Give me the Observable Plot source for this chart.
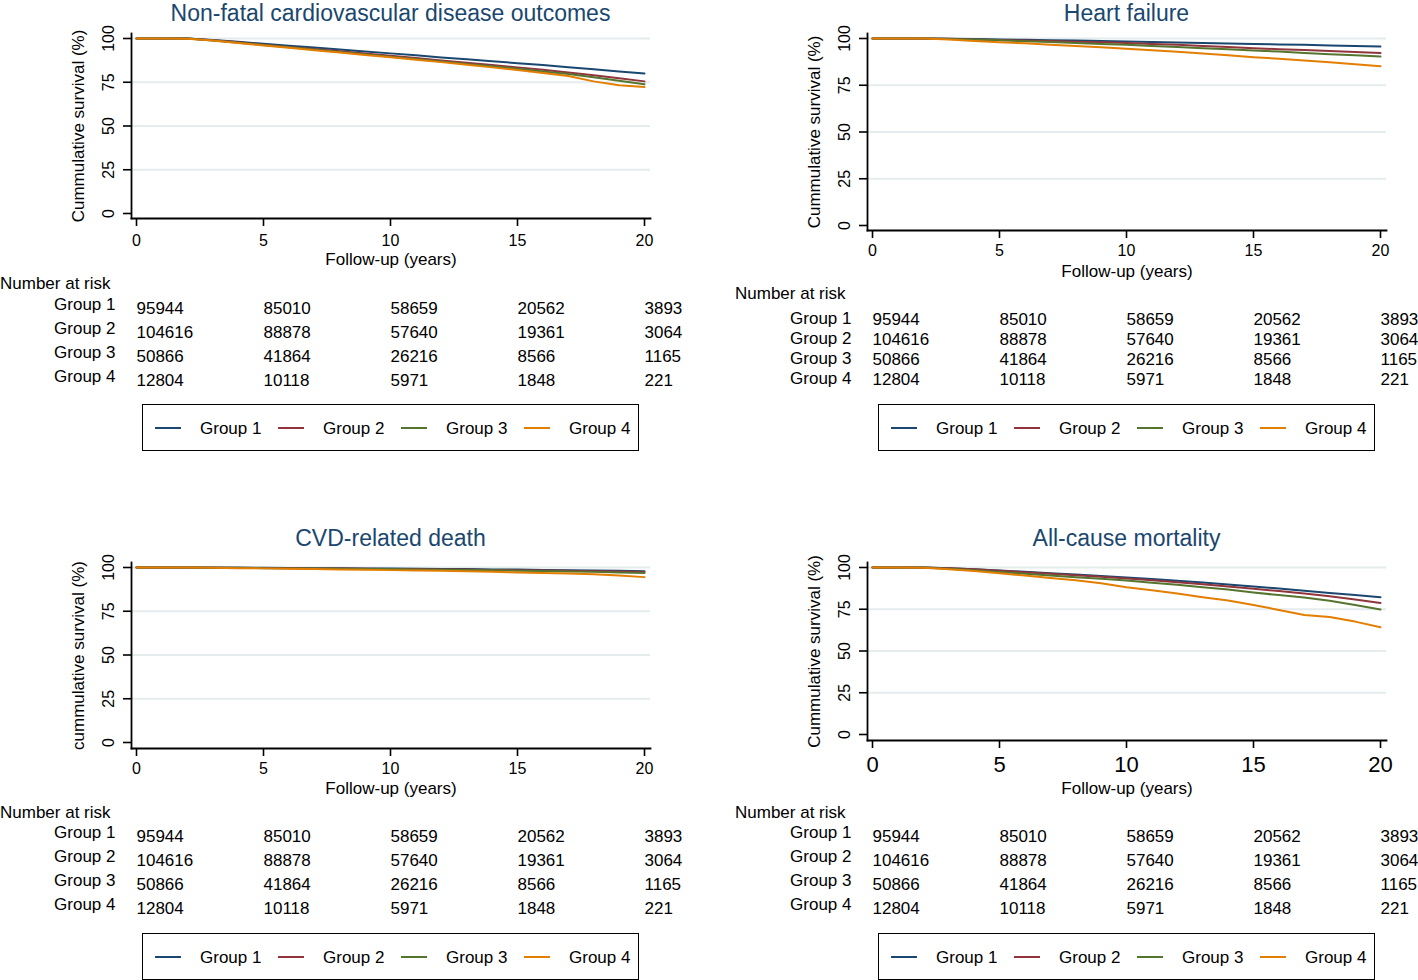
<!DOCTYPE html>
<html>
<head>
<meta charset="utf-8">
<script src="https://cdn.jsdelivr.net/npm/d3@7"></script>
<script src="https://cdn.jsdelivr.net/npm/@observablehq/plot@0.6"></script>
<style>
  body { margin: 0; background: #fff; }
  #root { position: relative; width: 1418px; height: 980px; overflow: hidden; background: #fff;
          font-family: "Liberation Sans", Arial, sans-serif; color: #000; }
  .abs { position: absolute; }
  .title { font-size: 23px; line-height: 26px; color: #1a476f; text-align: center; white-space: nowrap; }
  .txt17 { font-size: 17px; line-height: 17px; white-space: nowrap; }
  .legend { border: 1.6px solid #000; box-sizing: border-box; background: #fff; }
  svg { overflow: visible; }
</style>
</head>
<body>
<div id="root"></div>
<script>
// ---------------- DATA ----------------
const groups = ["Group 1", "Group 2", "Group 3", "Group 4"];
const groupColors = ["#1a476f", "#90353b", "#55752f", "#e37e00"];
const years = [0, 1, 2, 3, 4, 5, 6, 7, 8, 9, 10, 11, 12, 13, 14, 15, 16, 17, 18, 19, 20];
const xTicks = [0, 5, 10, 15, 20];
const yTicks = [0, 25, 50, 75, 100];
const yGrid = [25, 50, 75, 100];

// Cumulative survival (%) read at each follow-up year, per group
const survNonFatal = [
  [100, 100, 100, 99.2, 98.1, 97.0, 95.9, 94.8, 93.7, 92.6, 91.5, 90.4, 89.2, 88.1, 87.0, 85.9, 84.8, 83.6, 82.4, 81.2, 80.0],
  [100, 100, 100, 99.0, 97.8, 96.5, 95.2, 94.0, 92.7, 91.4, 90.1, 88.8, 87.5, 86.2, 84.8, 83.5, 82.1, 80.6, 79.0, 77.3, 75.5],
  [100, 100, 100, 98.9, 97.6, 96.3, 95.0, 93.7, 92.3, 91.0, 89.6, 88.3, 86.9, 85.5, 84.1, 82.7, 81.2, 79.7, 77.8, 75.8, 73.8],
  [100, 100, 99.9, 98.8, 97.4, 96.0, 94.7, 93.3, 92.0, 90.6, 89.3, 87.9, 86.5, 85.0, 83.5, 82.0, 80.3, 78.6, 75.5, 73.3, 72.3]
];
const survHeartFailure = [
  [100, 100, 100, 99.9, 99.7, 99.5, 99.3, 99.1, 98.9, 98.6, 98.4, 98.1, 97.9, 97.6, 97.3, 97.1, 96.8, 96.6, 96.3, 96.0, 95.7],
  [100, 100, 100, 99.8, 99.5, 99.2, 98.9, 98.6, 98.3, 98.0, 97.6, 97.1, 96.6, 96.0, 95.4, 94.8, 94.3, 93.8, 93.3, 92.8, 92.3],
  [100, 100, 100, 99.7, 99.4, 99.0, 98.5, 98.1, 97.6, 97.1, 96.6, 96.0, 95.4, 94.8, 94.2, 93.6, 93.0, 92.3, 91.6, 91.0, 90.4],
  [100, 100, 100, 99.4, 98.7, 98.0, 97.4, 96.7, 96.0, 95.3, 94.5, 93.7, 92.9, 92.0, 91.0, 90.0, 89.2, 88.3, 87.3, 86.2, 85.2]
];
const survCVDDeath = [
  [100, 100, 100, 100, 99.9, 99.8, 99.7, 99.6, 99.6, 99.5, 99.4, 99.3, 99.2, 99.1, 98.9, 98.8, 98.6, 98.5, 98.3, 98.1, 97.9],
  [100, 100, 100, 99.9, 99.8, 99.7, 99.6, 99.5, 99.4, 99.3, 99.2, 99.1, 98.9, 98.8, 98.6, 98.5, 98.3, 98.1, 97.9, 97.7, 97.4],
  [100, 100, 100, 99.9, 99.8, 99.6, 99.5, 99.4, 99.3, 99.2, 99.1, 98.9, 98.7, 98.6, 98.4, 98.2, 98.0, 97.7, 97.5, 97.2, 96.9],
  [100, 100, 100, 99.8, 99.6, 99.5, 99.3, 99.1, 98.9, 98.7, 98.5, 98.3, 98.1, 97.9, 97.6, 97.2, 96.9, 96.6, 96.2, 95.4, 94.5]
];
const survAllCause = [
  [100, 100, 100, 99.6, 99.0, 98.2, 97.4, 96.6, 95.8, 94.9, 94.0, 93.1, 92.1, 91.0, 89.8, 88.6, 87.4, 86.1, 84.8, 83.5, 82.2],
  [100, 100, 100, 99.5, 98.9, 98.0, 97.2, 96.3, 95.3, 94.4, 93.4, 92.3, 91.1, 89.9, 88.6, 87.3, 85.9, 84.4, 82.8, 80.9, 78.8],
  [100, 100, 100, 99.3, 98.4, 97.3, 96.3, 95.2, 94.2, 93.2, 92.2, 90.9, 89.6, 88.2, 86.8, 85.0, 83.5, 82.0, 80.1, 77.6, 74.8],
  [100, 100, 99.8, 99.0, 97.9, 96.6, 95.2, 93.7, 92.3, 90.6, 88.2, 86.4, 84.4, 82.2, 80.2, 77.5, 74.6, 71.5, 70.4, 67.6, 64.2]
];

// Number at risk
const riskTimes = [0, 5, 10, 15, 20];
const riskGroup1 = [95944, 85010, 58659, 20562, 3893];
const riskGroup2 = [104616, 88878, 57640, 19361, 3064];
const riskGroup3 = [50866, 41864, 26216, 8566, 1165];
const riskGroup4 = [12804, 10118, 5971, 1848, 221];
const riskAll = [riskGroup1, riskGroup2, riskGroup3, riskGroup4];

const titles = ["Non-fatal cardiovascular disease outcomes", "Heart failure", "CVD-related death", "All-cause mortality"];
const yLabels = ["Cummulative survival (%)", "Cummulative survival (%)", "cummulative survival (%)", "Cummulative survival (%)"];
const xLabel = "Follow-up (years)";
const riskHeader = "Number at risk";

// ---------------- LAYOUT ----------------
const FONT = '"Liberation Sans", Arial, sans-serif';
const GRID = "#e4ecee";
const root = document.getElementById("root");

const panels = [
  { surv: survNonFatal, title: titles[0], yLabel: yLabels[0],
    left: 0, top: 0, width: 700, height: 275, mt: 33, mb: 57, ml: 131, mr: 50, iT: 5, iB: 5,
    xFont: 16, xPad: 8, xTitleDy: 41, titleTop: 0,
    riskTop: 290, riskH: 100, riskMt: 17.5, riskMb: 10.5, labDy: -4, narTop: 274.5,
    legTop: 404 },
  { surv: survHeartFailure, title: titles[1], yLabel: yLabels[1],
    left: 700, top: 0, width: 718, height: 285, mt: 33, mb: 55, ml: 167, mr: 32, iT: 5, iB: 5,
    xFont: 16, xPad: 6, xTitleDy: 41.5, titleTop: 0,
    riskTop: 300, riskH: 90, riskMt: 18.5, riskMb: 10, labDy: -1, narTop: 284.5,
    legTop: 404 },
  { surv: survCVDDeath, title: titles[2], yLabel: yLabels[2],
    left: 0, top: 520, width: 700, height: 280, mt: 42, mb: 52, ml: 131, mr: 50, iT: 5, iB: 6,
    xFont: 16, xPad: 6, xTitleDy: 40, titleTop: 525,
    riskTop: 818, riskH: 100, riskMt: 17.5, riskMb: 10.5, labDy: -4, narTop: 803.5,
    legTop: 933 },
  { surv: survAllCause, title: titles[3], yLabel: yLabels[3],
    left: 700, top: 520, width: 718, height: 280, mt: 42, mb: 60, ml: 167, mr: 32, iT: 5, iB: 6,
    xFont: 22, xPad: 8, xTitleDy: 48, titleTop: 525,
    riskTop: 818, riskH: 100, riskMt: 17.5, riskMb: 10.5, labDy: -4, narTop: 803.5,
    legTop: 933 }
];

function place(el, left, top) {
  el.style.position = "absolute";
  el.style.left = left + "px";
  el.style.top = top + "px";
  root.appendChild(el);
  return el;
}

function div(cls, text) {
  const d = document.createElement("div");
  d.className = cls;
  if (text != null) d.textContent = text;
  return d;
}

for (const p of panels) {
  const rows = [];
  p.surv.forEach((s, gi) => years.forEach((t, i) => rows.push({ group: groups[gi], t, s: s[i] })));

  const xScale = { domain: [0, 20], insetLeft: 5, insetRight: 6 };

  const chart = Plot.plot({
    width: p.width, height: p.height,
    marginTop: p.mt, marginBottom: p.mb, marginLeft: p.ml, marginRight: p.mr,
    style: { fontFamily: FONT, fontSize: "16px", color: "#000", background: "transparent", overflow: "visible" },
    x: xScale,
    y: { domain: [0, 100], insetTop: p.iT, insetBottom: p.iB },
    color: { domain: groups, range: groupColors },
    marks: [
      Plot.gridY(yGrid, { stroke: GRID, strokeOpacity: 1, strokeWidth: 2.2 }),
      Plot.line(rows, { x: "t", y: "s", z: "group", stroke: "group", strokeWidth: 2 }),
      Plot.frame({ anchor: "left", stroke: "#000", strokeWidth: 1.8 }),
      Plot.frame({ anchor: "bottom", stroke: "#000", strokeWidth: 1.8 }),
      Plot.axisX(xTicks, { tickSize: 8, tickPadding: p.xPad, fontSize: p.xFont, strokeWidth: 1.6, label: null, tickFormat: d => String(d) }),
      Plot.axisY(yTicks, { tickSize: 8, tickPadding: 10, tickRotate: -90, textAnchor: "middle", lineAnchor: "bottom", fontSize: 16, strokeWidth: 1.6, label: null, tickFormat: d => String(d) }),
      Plot.text([xLabel], { text: d => d, frameAnchor: "bottom", dy: p.xTitleDy, lineAnchor: "middle", textAnchor: "middle", fontSize: 17 }),
      Plot.text([p.yLabel], { text: d => d, frameAnchor: "left", dx: -53, rotate: -90, textAnchor: "middle", lineAnchor: "middle", fontSize: 17 })
    ]
  });
  place(chart, p.left, p.top);

  // title
  const t = div("title", p.title);
  t.style.width = (p.width - p.ml - p.mr) + "px";
  place(t, p.left + p.ml, p.titleTop);

  // number at risk header
  place(div("txt17", riskHeader), p.left + (p.left === 0 ? 0 : 35), p.narTop);

  // risk table
  const riskRows = [];
  groups.forEach((g, gi) => riskTimes.forEach((tt, i) => riskRows.push({ group: g, t: tt, n: riskAll[gi][i] })));
  const table = Plot.plot({
    width: p.width, height: p.riskH,
    marginTop: p.riskMt, marginBottom: p.riskMb, marginLeft: p.ml, marginRight: p.mr,
    style: { fontFamily: FONT, fontSize: "17px", color: "#000", background: "transparent", overflow: "visible" },
    x: { ...xScale, axis: null },
    y: { type: "point", domain: groups, padding: 0, axis: null },
    marks: [
      Plot.text(riskRows, { x: "t", y: "group", text: d => String(d.n), textAnchor: "start", fontSize: 17 }),
      Plot.text(groups, { y: d => d, text: d => d, frameAnchor: "left", dx: -16, dy: p.labDy, textAnchor: "end", fontSize: 17 })
    ]
  });
  place(table, p.left, p.riskTop);

  // legend
  const boxLeft = p.left + p.ml + 11;
  const box = div("legend abs");
  box.style.width = "497px";
  box.style.height = "47px";
  place(box, boxLeft, p.legTop);
  groups.forEach((g, i) => {
    const ln = document.createElement("div");
    ln.style.cssText = `position:absolute;left:${12 + 123 * i}px;top:21.5px;width:26px;height:2px;background:${groupColors[i]};`;
    box.appendChild(ln);
    const tx = div("txt17", g);
    tx.style.cssText += "position:absolute;left:" + (57 + 123 * i) + "px;top:14.5px;";
    box.appendChild(tx);
  });
}
</script>
</body>
</html>
